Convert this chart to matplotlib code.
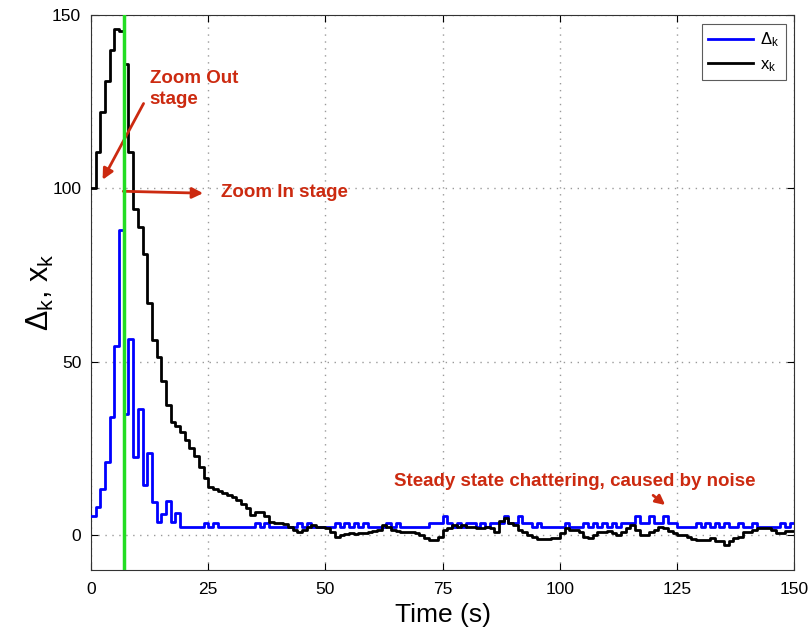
import numpy as np
import matplotlib
matplotlib.use("Agg")
import matplotlib.pyplot as plt

plt.rcParams['font.family'] = ['Liberation Sans', 'DejaVu Sans']
plt.rcParams['mathtext.default'] = 'regular'

time_s = list(range(0, 151))

x_k = [100, 110.5, 122, 131, 140, 146, 145.5, 136, 110.5, 94,
       89, 81, 67, 56.3, 51.5, 44.5, 37.5, 32.5, 31.6, 29.7,
       27.5, 25.1, 22.7, 19.8, 16.5, 13.8, 13.2, 12.8, 12.1, 11.6,
       11.0, 10.2, 9.0, 7.7, 5.9, 6.7, 6.8, 5.4, 3.9, 3.6,
       3.5, 3.3, 2.4, 1.5, 0.8, 1.6, 2.3, 3.0, 2.5, 2.3,
       2.0, 1.0, -0.4, 0.1, 0.3, 0.6, 0.3, 0.6, 0.7, 0.8,
       1.1, 1.6, 3.0, 2.5, 1.5, 1.1, 1.0, 1.0, 0.8, 0.6,
       0.1, -0.9, -1.4, -1.4, -0.4, 1.5, 2.0, 2.9, 2.5, 2.9,
       2.5, 2.5, 2.0, 2.0, 2.5, 2.0, 1.0, 4.0, 5.0, 3.6,
       2.9, 1.5, 1.0, 0.1, -0.6, -1.2, -1.2, -1.2, -0.9, -0.9,
       0.6, 2.0, 1.5, 1.5, 1.0, -0.4, -0.9, 0.1, 1.0, 1.0,
       1.3, 0.6, 0.1, 1.0, 2.0, 2.9, 1.5, 0.1, 0.1, 1.0,
       1.5, 2.5, 2.0, 1.3, 0.6, 0.1, 0.1, -0.4, -1.2, -1.4,
       -1.4, -1.4, -0.9, -1.6, -1.6, -2.8, -1.6, -0.9, -0.4, 0.8,
       0.8, 1.5, 2.0, 2.0, 2.0, 1.5, 0.6, 0.6, 1.3, 1.3, 1.3]

delta_k = [5.4, 8.2, 13.3, 21, 34, 54.5, 88, 35, 56.5, 22.6,
           36.3, 14.6, 23.6, 9.5, 3.8, 6.2, 9.8, 3.8, 6.5, 2.5,
           2.3, 2.3, 2.3, 2.3, 3.5, 2.3, 3.5, 2.3, 2.3, 2.3,
           2.3, 2.3, 2.3, 2.3, 2.3, 3.5, 2.3, 3.5, 2.3, 2.3,
           2.3, 2.3, 2.3, 2.3, 3.5, 2.3, 3.5, 2.3, 2.3, 2.3,
           2.3, 2.3, 3.5, 2.3, 3.5, 2.3, 3.5, 2.3, 3.5, 2.3,
           2.3, 2.3, 2.3, 3.5, 2.3, 3.5, 2.3, 2.3, 2.3, 2.3,
           2.3, 2.3, 3.5, 3.5, 3.5, 5.6, 3.5, 2.3, 3.5, 2.3,
           3.5, 3.5, 2.3, 3.5, 2.3, 3.5, 3.5, 3.5, 5.6, 3.5,
           3.5, 5.6, 3.5, 3.5, 2.3, 3.5, 2.3, 2.3, 2.3, 2.3,
           2.3, 3.5, 2.3, 2.3, 2.3, 3.5, 2.3, 3.5, 2.3, 3.5,
           2.3, 3.5, 2.3, 3.5, 3.5, 3.5, 5.6, 3.5, 3.5, 5.6,
           3.5, 3.5, 5.6, 3.5, 3.5, 2.3, 2.3, 2.3, 2.3, 3.5,
           2.3, 3.5, 2.3, 3.5, 2.3, 3.5, 2.3, 2.3, 3.5, 2.3,
           2.3, 3.5, 2.3, 2.3, 2.3, 2.3, 2.3, 3.5, 2.3, 3.5, 3.5]

switch_time = 7.0
x_ticks = [0, 25, 50, 75, 100, 125, 150]
y_ticks = [0, 50, 100, 150]

red = '#cc2a10'

fig = plt.figure(figsize=(8.1, 6.41), dpi=100)
ax = fig.add_axes([0.1123, 0.111, 0.8685, 0.8655])

ax.step(time_s, delta_k, where='post', color='#0000ff', lw=2.0, label=r'$\Delta_k$', zorder=3)
ax.step(time_s, x_k, where='post', color='black', lw=2.0, label=r'$x_k$', zorder=3)
ax.axvline(switch_time, color='#22dd22', lw=2.5, zorder=4)

ax.set_xlim(0, 150)
ax.set_ylim(-10, 150)
ax.set_xticks(x_ticks)
ax.set_yticks(y_ticks)
ax.tick_params(direction='in', labelsize=12.5, length=5, top=True, right=True)
ax.tick_params(axis='x', pad=9)
ax.tick_params(axis='y', pad=7)
ax.grid(True, color='#9a9a9a', linestyle=(0, (1, 4)), linewidth=1.0)
for s in ax.spines.values():
    s.set_color('#333333')
    s.set_linewidth(0.8)

ax.set_xlabel('Time (s)', fontsize=19, labelpad=4)
ax.set_ylabel(r'$\Delta_k$, $x_k$', fontsize=22, labelpad=-3)

leg = ax.legend(loc='upper right', fontsize=12, frameon=True, fancybox=False,
                edgecolor='#333333', handlelength=2.7, borderpad=0.4,
                handletextpad=0.4, labelspacing=0.45,
                bbox_to_anchor=(0.9995, 0.999))
leg.get_frame().set_linewidth(0.8)

# annotations
ax.text(12.5, 128.6, 'Zoom Out\nstage', color=red, fontsize=13.5, fontweight='bold',
        va='center', ha='left', linespacing=1.3)
ax.annotate('', xy=(2.2, 101.8), xytext=(11.5, 125.2),
            arrowprops=dict(arrowstyle='-|>', color=red, lw=2, mutation_scale=16))
ax.annotate('', xy=(24.5, 98.6), xytext=(6.3, 99.2),
            arrowprops=dict(arrowstyle='-|>', color=red, lw=2, mutation_scale=16))
ax.text(27.8, 98.8, 'Zoom In stage', color=red, fontsize=13.5, fontweight='bold',
        va='center', ha='left')
ax.text(64.6, 15.4, 'Steady state chattering, caused by noise', color=red,
        fontsize=13.5, fontweight='bold', va='center', ha='left')
ax.annotate('', xy=(122.9, 8.2), xytext=(119.4, 12.0),
            arrowprops=dict(arrowstyle='-|>', color=red, lw=2, mutation_scale=14))

fig.savefig('out.png', dpi=100)
